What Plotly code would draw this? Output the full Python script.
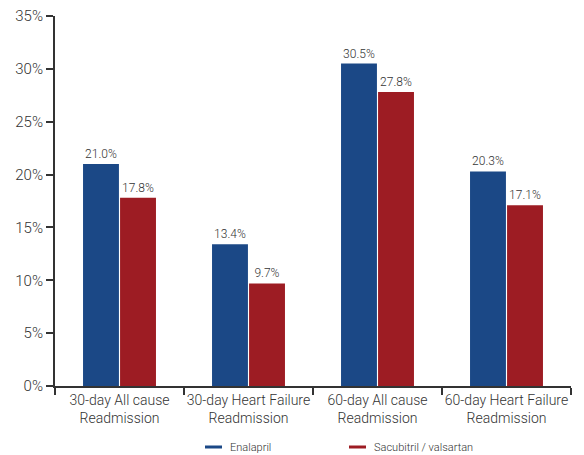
import plotly.graph_objects as go

categories = ["30-day All cause<br>Readmission", "30-day Heart Failure<br>Readmission",
              "60-day All cause<br>Readmission", "60-day Heart Failure<br>Readmission"]
series_names = ["Enalapril", "Sacubitril / valsartan"]
enalapril = [21.0, 13.4, 30.5, 20.3]
sacubitril = [17.8, 9.7, 27.8, 17.1]
colors = ["#1B4886", "#9D1C23"]
y_ticks = [0, 5, 10, 15, 20, 25, 30, 35]

FONT = "Roboto, sans-serif"
TXT = "#333333"

fig = go.Figure()
for name, vals, col in zip(series_names, [enalapril, sacubitril], colors):
    fig.add_trace(go.Bar(
        x=categories, y=vals, name=name, marker=dict(color=col, line=dict(width=0)),
        text=[f"{v:.1f}%" for v in vals], textposition="outside",
        constraintext="none",
        textfont=dict(size=12, color=TXT, family=FONT, weight=300),
        cliponaxis=False, showlegend=False,
    ))

# custom legend (short line symbols)
W, H = 584, 455
L, R, T, B = 55, 13, 16, 69
pw = W - L - R
ph = H - T - B
leg_x = [205, 349]
leg_y = (H - B - 447) / ph
for name, col, px in zip(series_names, colors, leg_x):
    fig.add_shape(type="line", xref="paper", yref="paper",
                  x0=(px - L) / pw, x1=(px + 17 - L) / pw,
                  y0=leg_y, y1=leg_y, line=dict(color=col, width=3))
    fig.add_annotation(xref="paper", yref="paper", x=(px + 23 - L) / pw, y=leg_y,
                       text=name, showarrow=False, xanchor="left", yanchor="middle",
                       font=dict(size=11, color=TXT, family=FONT, weight=300))

fig.update_layout(
    width=W, height=H,
    margin=dict(l=L, r=R, t=T, b=B),
    paper_bgcolor="white", plot_bgcolor="white",
    barmode="group", bargap=0.426, bargroupgap=0.03,
    font=dict(family=FONT, color=TXT),
)
fig.update_xaxes(
    showline=True, linecolor="#333333", linewidth=2,
    ticks="outside", tickson="boundaries", ticklen=7, tickcolor="#333333", tickwidth=2,
    tickangle=0, automargin=False,
    tickfont=dict(size=14, color=TXT, family=FONT, weight=300), showgrid=False,
)
fig.update_yaxes(
    range=[0, 35], tickvals=y_ticks, ticktext=[f"{t}%" for t in y_ticks],
    showline=True, linecolor="#333333", linewidth=2, automargin=False,
    ticks="outside", ticklen=7, tickcolor="#333333", tickwidth=2,
    tickfont=dict(size=15, color=TXT, family=FONT, weight=300), showgrid=False, zeroline=False,
)

fig.write_html("out.html")
